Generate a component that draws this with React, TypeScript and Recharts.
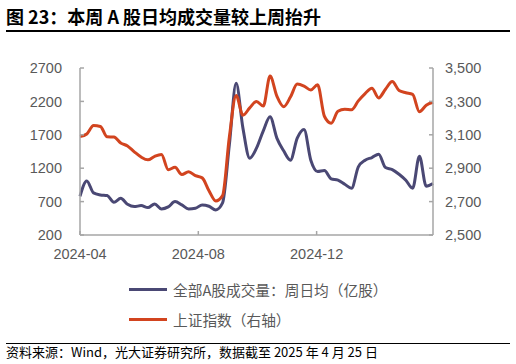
import React from 'react';
import { LineChart, Line, XAxis, YAxis } from 'recharts';

// weekly points (Fridays)
const dates = [
  '2024-04-26', '2024-05-03', '2024-05-10', '2024-05-17', '2024-05-24', '2024-05-31',
  '2024-06-07', '2024-06-14', '2024-06-21', '2024-06-28', '2024-07-05', '2024-07-12', '2024-07-19', '2024-07-26',
  '2024-08-02', '2024-08-09', '2024-08-16', '2024-08-23', '2024-08-30',
  '2024-09-06', '2024-09-13', '2024-09-20', '2024-09-27',
  '2024-10-04', '2024-10-11', '2024-10-18', '2024-10-25',
  '2024-11-01', '2024-11-08', '2024-11-15', '2024-11-22', '2024-11-29',
  '2024-12-06', '2024-12-13', '2024-12-20', '2024-12-27',
  '2025-01-03', '2025-01-10', '2025-01-17', '2025-01-24', '2025-01-31',
  '2025-02-07', '2025-02-14', '2025-02-21', '2025-02-28',
  '2025-03-07', '2025-03-14', '2025-03-21', '2025-03-28',
  '2025-04-04', '2025-04-11', '2025-04-18', '2025-04-25',
];

// 全部A股成交量：周日均（亿股）
const volume = [
  780, 1010, 830, 800, 790, 690, 750, 660, 625, 640,
  610, 665, 590, 620, 700, 650, 590, 600, 650, 630,
  575, 680, 1550, 2470, 1800, 1350, 1500, 1760, 1970, 1650,
  1460, 1320, 1650, 1780, 1320, 1150, 1165, 1040, 1020, 960,
  900, 1220, 1320, 1360, 1410, 1210, 1180, 1110, 1020, 900,
  1380, 930, 970,
];

// 上证指数（右轴）
const sse = [
  3089, 3105, 3155, 3150, 3088, 3087, 3051, 3033, 2998, 2967,
  2950, 2971, 2982, 2891, 2905, 2862, 2879, 2855, 2842, 2765,
  2704, 2736, 3087, 3336, 3217, 3261, 3300, 3272, 3452, 3331,
  3268, 3326, 3404, 3392, 3368, 3400, 3211, 3169, 3241, 3253,
  3250, 3303, 3347, 3379, 3321, 3373, 3419, 3365, 3352, 3342,
  3238, 3277, 3295,
];

const leftTicks = [200, 700, 1200, 1700, 2200, 2700];
const rightTicks = [2500, 2700, 2900, 3100, 3300, 3500];
const xTickDates = ['2024-04-26', '2024-08-26', '2024-12-26'];
const xTickLabels = ['2024-04', '2024-08', '2024-12'];

const volName = '全部A股成交量：周日均（亿股）';
const sseName = '上证指数（右轴）';

const BLUE = '#4a4874';
const RED = '#d2441f';
const AXIS = '#a6a6a6';
const TICK_TEXT = '#595959';

const data = dates.map((d, i) => ({ t: Date.parse(d), volume: volume[i], sse: sse[i] }));
const xTicks = xTickDates.map((d) => Date.parse(d));

const cjk = '"Noto Sans CJK SC", "Noto Sans", sans-serif';
const tickFont = { fontFamily: '"Liberation Sans", Arial, sans-serif', fontSize: 14.5, fill: TICK_TEXT };

const App: React.FC = () => {
  return (
    <div style={{ position: 'absolute', left: 0, top: 0, width: 516, height: 364, background: '#fff', fontFamily: cjk }}>
      <div style={{ position: 'absolute', left: 6, top: 4, fontSize: 18, fontWeight: 700, color: '#000', whiteSpace: 'nowrap', lineHeight: '24px' }}>
        图 23：本周 A 股日均成交量较上周抬升
      </div>
      <div style={{ position: 'absolute', left: 6, top: 30, width: 504, height: 1.5, background: '#000' }} />

      <div style={{ position: 'absolute', left: 0, top: 0 }}>
        <LineChart width={516} height={270} data={data} margin={{ top: 68, right: 0, left: 0, bottom: 0 }}>
          <XAxis
            dataKey="t"
            type="number"
            domain={[data[0].t, data[data.length - 1].t]}
            ticks={xTicks}
            tickFormatter={(v: number) => xTickLabels[xTicks.indexOf(v)] ?? ''}
            height={35}
            stroke={AXIS}
            strokeWidth={1.5}
            tickSize={-4}
            tickMargin={18}
            tick={tickFont}
            interval={0}
          />
          <YAxis
            yAxisId="left"
            orientation="left"
            domain={[200, 2700]}
            ticks={leftTicks}
            width={80}
            stroke={AXIS}
            strokeWidth={1.5}
            tickSize={-4}
            tickMargin={22}
            tick={tickFont}
            interval={0}
          />
          <YAxis
            yAxisId="right"
            orientation="right"
            domain={[2500, 3500]}
            ticks={rightTicks}
            width={83}
            stroke={AXIS}
            strokeWidth={1.5}
            tickSize={-4}
            tickMargin={16}
            tick={{ ...tickFont, textAnchor: 'start' }}
            tickFormatter={(v: number) => v.toLocaleString('en-US')}
            interval={0}
          />
          <Line
            yAxisId="left"
            type="monotone"
            dataKey="volume"
            name={volName}
            stroke={BLUE}
            strokeWidth={3}
            dot={false}
            isAnimationActive={false}
          />
          <Line
            yAxisId="right"
            type="monotone"
            dataKey="sse"
            name={sseName}
            stroke={RED}
            strokeWidth={3}
            dot={false}
            isAnimationActive={false}
          />
        </LineChart>
      </div>

      {[
        { name: volName, color: BLUE, y: 289 },
        { name: sseName, color: RED, y: 319 },
      ].map((item) => (
        <div key={item.name} style={{ position: 'absolute', left: 129, top: item.y - 12, height: 24, display: 'flex', alignItems: 'center', whiteSpace: 'nowrap' }}>
          <div style={{ width: 38, height: 3, background: item.color, marginRight: 6 }} />
          <span style={{ fontSize: 14.7, color: TICK_TEXT }}>{item.name}</span>
        </div>
      ))}

      <div style={{ position: 'absolute', left: 6, top: 342.5, width: 504, height: 1.5, background: '#000' }} />
      <div style={{ position: 'absolute', left: 6, top: 344, fontSize: 13, color: '#000', whiteSpace: 'nowrap', lineHeight: '16px' }}>
        资料来源：Wind，光大证券研究所，数据截至 2025 年 4 月 25 日
      </div>
    </div>
  );
};

export default App;
